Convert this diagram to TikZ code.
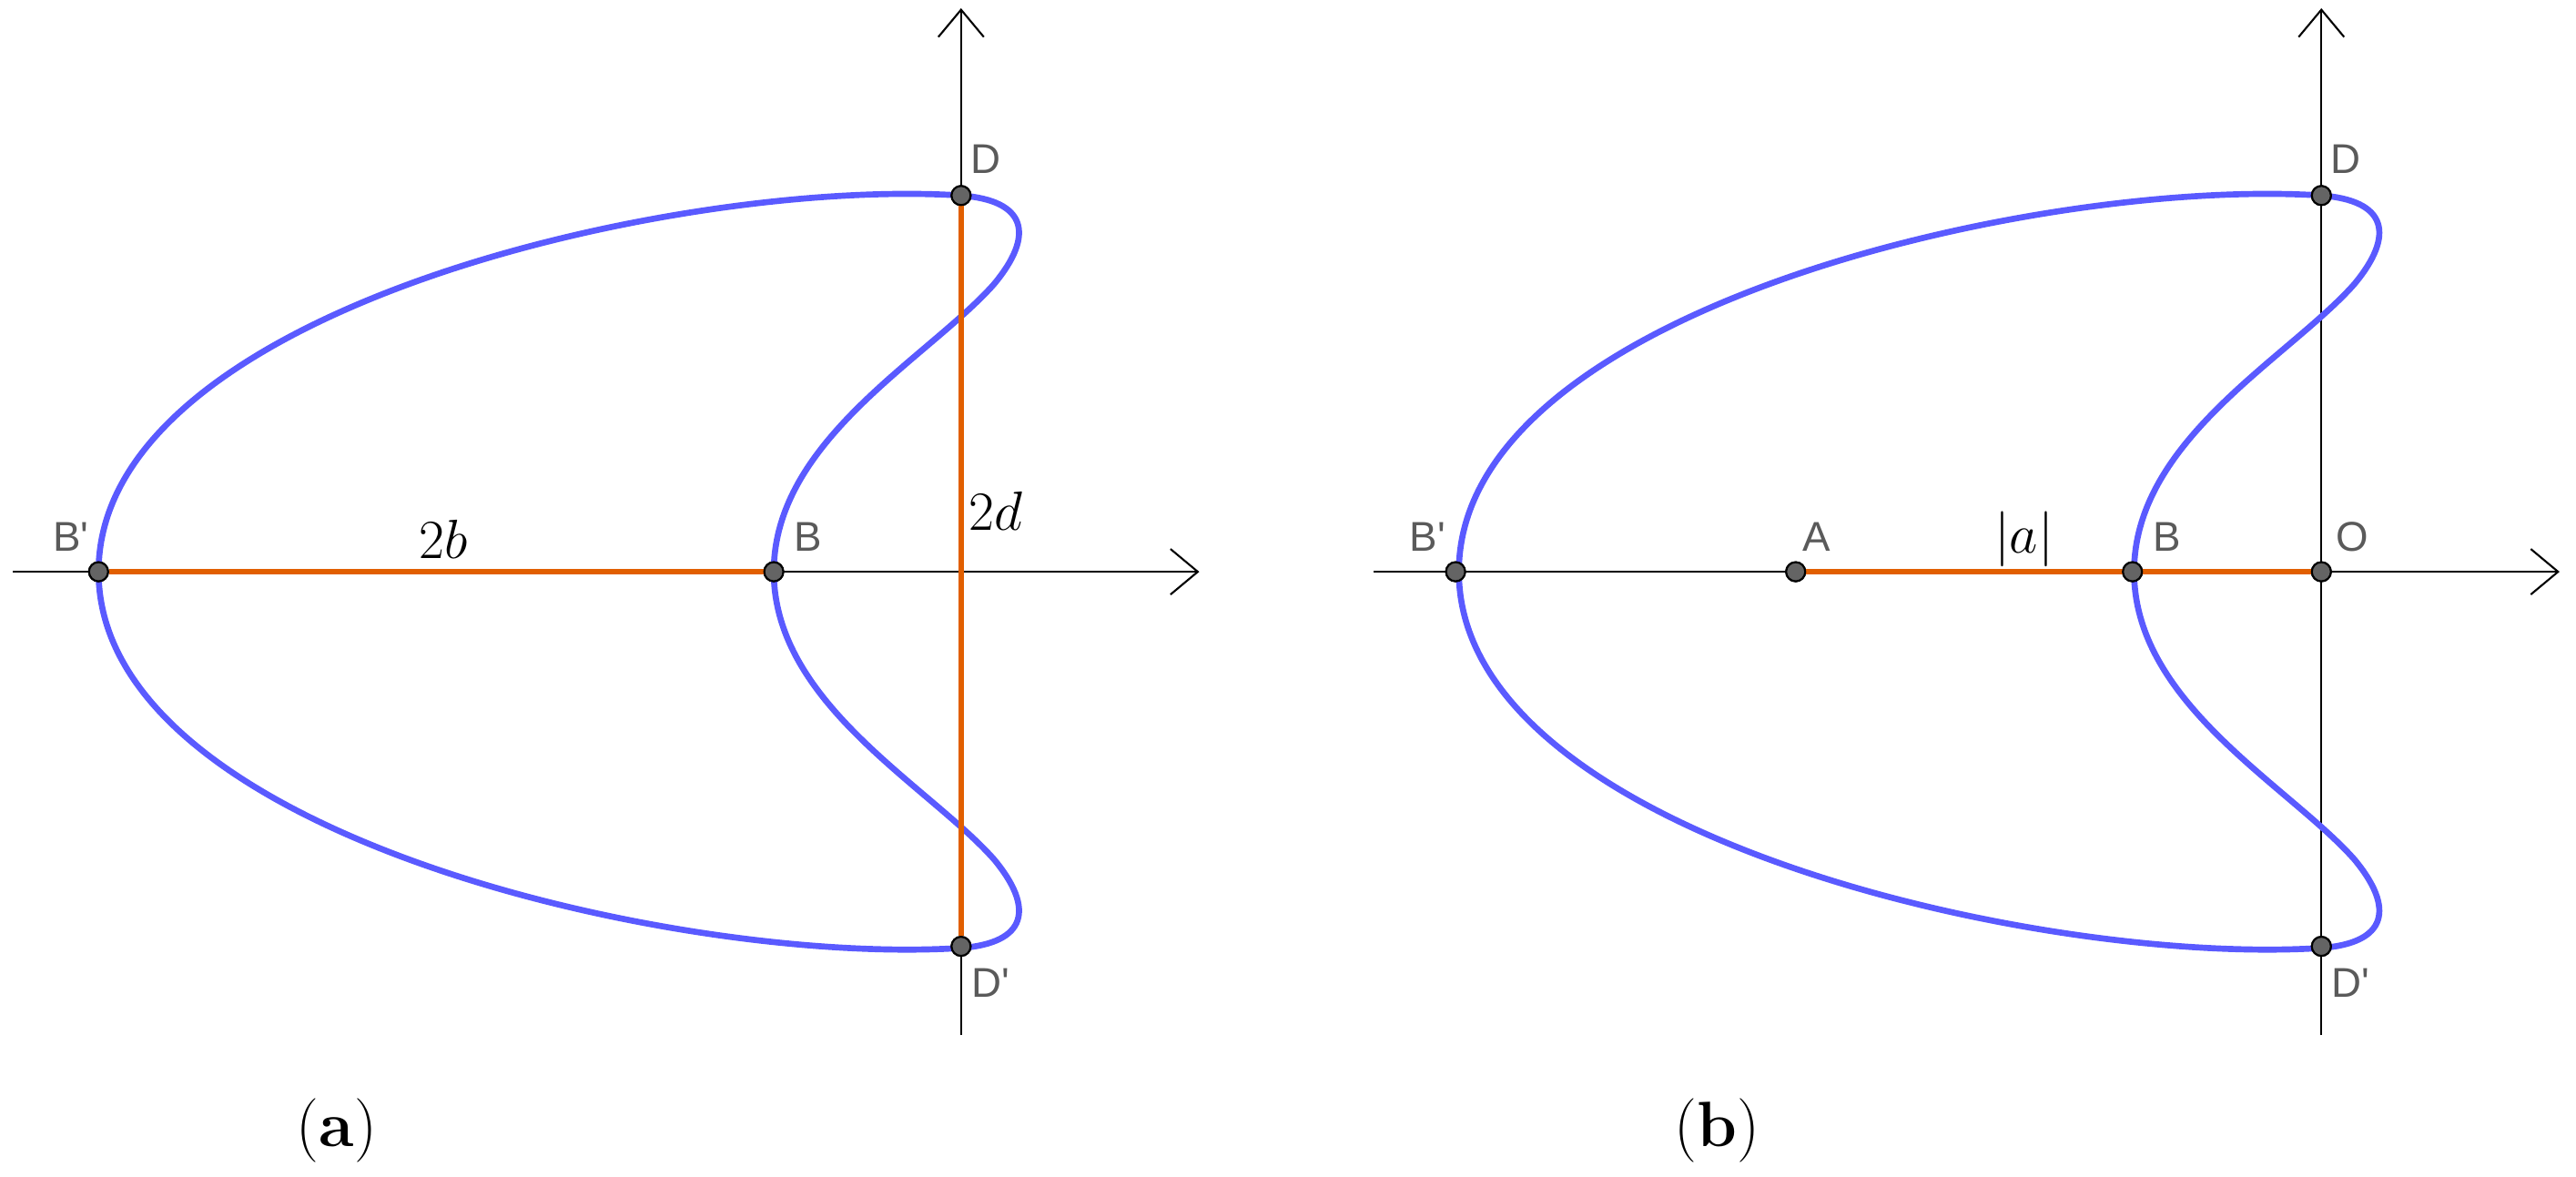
\documentclass[tikz,border=0pt]{standalone}
\usepackage{fontspec}
\newfontfamily\lbl{Liberation Sans}
\usetikzlibrary{arrows.meta}
\begin{document}
\begin{tikzpicture}[x=0.01805cm,y=-0.01805cm,
  axis/.style={line width=0.6pt,-{Straight Barb[length=0.3cm,width=0.5cm]}},
  curvestyle/.style={line width=1.9pt,draw={rgb,255:red,90;green,90;blue,255}},
  seg/.style={line width=1.6pt,draw={rgb,255:red,225;green,95;blue,0}},
  pt/.style={circle,draw=black,fill={rgb,255:red,100;green,100;blue,100},line width=0.6pt,inner sep=0pt,minimum size=0.21cm},
  lb/.style={font=\lbl\fontsize{13}{13}\selectfont,text={rgb,255:red,90;green,90;blue,90}},
  ml/.style={font=\fontsize{17}{17}\selectfont},
  captext/.style={font=\fontsize{20}{20}\selectfont}]
\useasboundingbox (0,0) rectangle (1568,716);
\tikzset{pics/loop/.style={code={
  \draw[curvestyle] (-525,0) .. controls (-525,-160) and (-170,-240) .. (0,-229)
     .. controls (40,-226) and (45,-205) .. (20,-175)
     .. controls (-20,-130) and (-114,-80) .. (-114,0)
     .. controls (-114,80) and (-20,130) .. (20,175)
     .. controls (45,205) and (40,226) .. (0,229)
     .. controls (-170,240) and (-525,160) .. (-525,0) -- cycle;
}}}
% panel a
\coordinate (ax0) at (8,348); \coordinate (ax1) at (730,348);
\coordinate (ay0) at (585,630); \coordinate (ay1) at (585,5);
\draw[axis] (ax0) -- (ax1);
\draw[axis] (ay0) -- (ay1);
\pic at (585,348) {loop};
\node[pt] (Bpa) at (60,348) {};
\node[pt] (Ba) at (471,348) {};
\node[pt] (Da) at (585,119) {};
\node[pt] (Dpa) at (585,576) {};
\draw[seg] (Bpa) -- (Ba);
\draw[seg] (Da) -- (Dpa);
\node[pt] at (Bpa) {}; \node[pt] at (Ba) {}; \node[pt] at (Da) {}; \node[pt] at (Dpa) {};
\node[lb] at (43,327) {B'};
\node[lb] at (492,327) {B};
\node[lb] at (600,97) {D};
\node[lb] at (603,598) {D'};
\node[ml] at (270,328) {$2b$};
\node[ml] at (606,311) {$2d$};
\node[captext] at (205,688) {(\textbf{a})};
% panel b
\coordinate (bx0) at (836,348); \coordinate (bx1) at (1558,348);
\coordinate (by0) at (1413,630); \coordinate (by1) at (1413,5);
\draw[axis] (bx0) -- (bx1);
\draw[axis] (by0) -- (by1);
\pic at (1413,348) {loop};
\node[pt] (Bpb) at (886,348) {};
\node[pt] (Ab) at (1093,348) {};
\node[pt] (Bb) at (1298,348) {};
\node[pt] (Ob) at (1413,348) {};
\node[pt] (Db) at (1413,119) {};
\node[pt] (Dpb) at (1413,576) {};
\draw[seg] (Ab) -- (Ob);
\foreach \n in {Bpb,Ab,Bb,Ob,Db,Dpb} \node[pt] at (\n) {};
\node[lb] at (869,327) {B'};
\node[lb] at (1106,327) {A};
\node[lb] at (1319,327) {B};
\node[lb] at (1432,327) {O};
\node[lb] at (1428,97) {D};
\node[lb] at (1431,598) {D'};
\node[ml] at (1232,328) {$|a|$};
\node[captext] at (1045,688) {(\textbf{b})};
\end{tikzpicture}
\end{document}
